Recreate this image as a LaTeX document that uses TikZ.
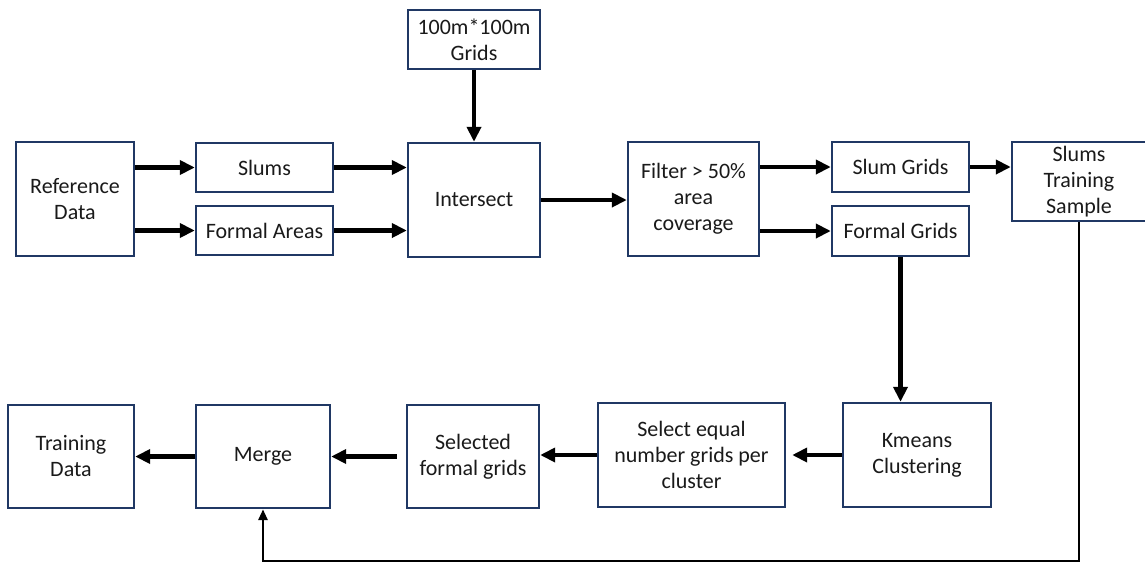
\documentclass[tikz,border=0pt]{standalone}
\usepackage{fontspec}
\setmainfont{Carlito}
\usetikzlibrary{arrows.meta,calc}
\definecolor{boxline}{HTML}{203864}
\definecolor{ink}{HTML}{1A1A1A}
\tikzset{
  block/.style={draw=boxline, line width=2.4pt, fill=white, rectangle, inner sep=0pt,
    align=center, text=ink, font=\fontsize{22}{26}\selectfont},
  flow/.style={line width=4.5pt, -{Triangle[length=15pt,width=14pt]}},
  back/.style={line width=2.8pt, -{Triangle[length=11pt,width=9pt]}}
}
\begin{document}
\begin{tikzpicture}[x=1pt,y=-1pt]
\useasboundingbox (0,0) rectangle (1145,563);
% upper row
\node[block, minimum width=132pt, minimum height=59pt]  (grids) at (474,39.5) {100m*100m\\Grids};
\node[block, minimum width=118pt, minimum height=114pt] (ref) at (75,199) {Reference\\Data};
\node[block, minimum width=137pt, minimum height=49pt]  (slums) at (264.5,167.5) {Slums};
\node[block, minimum width=137pt, minimum height=49pt]  (formal) at (264.5,230.5) {Formal Areas};
\node[block, minimum width=132pt, minimum height=114pt] (inter) at (474,200) {Intersect};
\node[block, minimum width=131pt, minimum height=114pt] (filter) at (693.5,199) {Filter > 50\%\\area\\coverage};
\node[block, minimum width=137pt, minimum height=50pt]  (sgrids) at (900.5,167) {Slum Grids};
\node[block, minimum width=137pt, minimum height=50pt]  (fgrids) at (900.5,231) {Formal Grids};
\node[block, minimum width=134pt, minimum height=79pt]  (sts) at (1079,181.5) {Slums\\Training\\Sample};
% lower row
\node[block, minimum width=148pt, minimum height=104pt] (kmeans) at (917,455) {Kmeans\\Clustering};
\node[block, minimum width=187pt, minimum height=104pt] (seleq) at (691.5,455) {Select equal\\number grids per\\cluster};
\node[block, minimum width=132pt, minimum height=103pt] (selected) at (473,456.5) {Selected\\formal grids};
\node[block, minimum width=134pt, minimum height=103pt] (merge) at (263,456.5) {Merge};
\node[block, minimum width=126pt, minimum height=103pt] (train) at (71,456.5) {Training\\Data};
\coordinate (ret) at (0,561);

% connectors
\draw[flow] (ref.east |- slums.west) -- (slums.west);
\draw[flow] (ref.east |- formal.west) -- (formal.west);
\draw[flow] (slums.east) -- (inter.west |- slums.east);
\draw[flow] (formal.east) -- (inter.west |- formal.east);
\draw[flow] (grids.south) -- (inter.north);
\draw[flow] (inter.east) -- (filter.west |- inter.east);
\draw[flow] (filter.east |- sgrids.west) -- (sgrids.west);
\draw[flow] (filter.east |- fgrids.west) -- (fgrids.west);
\draw[flow] (sgrids.east) -- (sts.west |- sgrids.east);
\draw[flow] (fgrids.south) -- (fgrids.south |- kmeans.north);
\draw[flow, shorten >=6pt] (kmeans.west) -- (seleq.east |- kmeans.west);
\draw[flow] (seleq.west) -- (selected.east |- seleq.west);
\draw[flow, shorten <=9pt] (selected.west) -- (merge.east |- selected.west);
\draw[flow] (merge.west) -- (train.east);
\draw[back] (sts.south) -- (sts.south |- ret) -| (merge.south);
\end{tikzpicture}
\end{document}
